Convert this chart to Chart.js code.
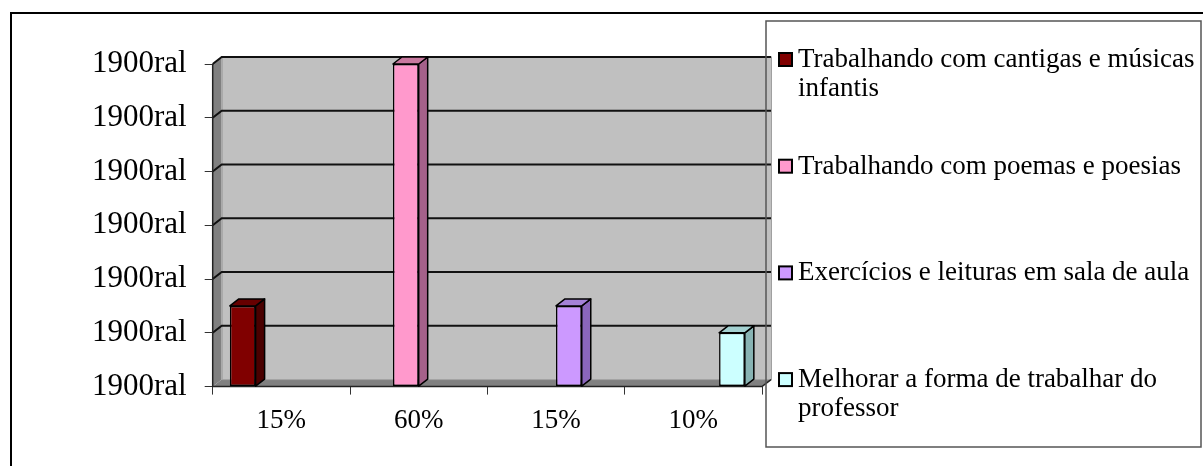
<!DOCTYPE html>
<html>
<head>
<meta charset="utf-8">
<script src="https://cdn.jsdelivr.net/npm/chart.js@4"></script>
<style>
  body { margin: 0; background: #fff; }
  canvas { display: block; }
</style>
</head>
<body>
<canvas id="chart" width="1203" height="466"></canvas>
<script>
// --- Data ---
const categories = ['15%', '60%', '15%', '10%'];
const seriesLabels = [
  'Trabalhando com cantigas e músicas infantis',
  'Trabalhando com poemas e poesias',
  'Exercícios e leituras em sala de aula',
  'Melhorar a forma de trabalhar do professor'
];
const cantigas  = [15, null, null, null];
const poemas    = [null, 60, null, null];
const exercicios = [null, null, 15, null];
const melhorar  = [null, null, null, 10];
const yTickText = '1900ral';

// front / side / top colours of each series
const fronts = ['#800000', '#FF99CC', '#CC99FF', '#CCFFFF'];
const sides  = ['#4a0000', '#a5618a', '#8a66bb', '#88b3b3'];
const tops   = ['#660000', '#c8799f', '#a582d8', '#a3d1d1'];

const DX = 9, DY = 7;   // depth of the 3d effect
const FONT = "'Liberation Serif', 'Times New Roman', serif";

// walls, floor and gridlines behind the bars
const wall3d = {
  id: 'wall3d',
  beforeDatasetsDraw(chart) {
    const { ctx, chartArea: a, scales: { y } } = chart;
    ctx.save();
    // side wall
    ctx.fillStyle = '#808080';
    ctx.beginPath();
    ctx.moveTo(a.left, a.top); ctx.lineTo(a.left + DX, a.top - DY);
    ctx.lineTo(a.left + DX, a.bottom - DY); ctx.lineTo(a.left, a.bottom);
    ctx.closePath(); ctx.fill();
    // floor
    ctx.beginPath();
    ctx.moveTo(a.left, a.bottom); ctx.lineTo(a.left + DX, a.bottom - DY);
    ctx.lineTo(a.right + DX, a.bottom - DY); ctx.lineTo(a.right, a.bottom);
    ctx.closePath(); ctx.fill();
    // back wall
    ctx.fillStyle = '#C0C0C0';
    ctx.fillRect(a.left + DX, a.top - DY, a.right - a.left, a.bottom - a.top);
    ctx.strokeStyle = '#a0a0a0';
    ctx.lineWidth = 1;
    ctx.strokeRect(a.left + DX + 0.5, a.top - DY, a.right - a.left, a.bottom - a.top);
    // gridlines
    ctx.strokeStyle = '#111';
    ctx.lineWidth = 2;
    y.ticks.forEach(t => {
      if (t.value === 0) return;
      const py = y.getPixelForValue(t.value);
      ctx.beginPath();
      ctx.moveTo(a.left, py);
      ctx.lineTo(a.left + DX, py - DY);
      ctx.lineTo(a.right + DX, py - DY);
      ctx.stroke();
    });
    // axis edges
    ctx.strokeStyle = '#222';
    ctx.lineWidth = 1.5;
    ctx.beginPath();
    ctx.moveTo(a.left, a.top); ctx.lineTo(a.left, a.bottom); ctx.lineTo(a.right, a.bottom);
    ctx.lineTo(a.right + DX, a.bottom - DY);
    ctx.stroke();
    ctx.restore();
  },
  afterDatasetsDraw(chart) {
    const { ctx } = chart;
    ctx.save();
    ctx.strokeStyle = '#000';
    ctx.lineWidth = 1.5;
    ctx.lineJoin = 'round';
    chart.data.datasets.forEach((ds, i) => {
      chart.getDatasetMeta(i).data.forEach((bar, j) => {
        if (ds.data[j] == null) return;
        const l = bar.x - bar.width / 2, r = bar.x + bar.width / 2;
        const t = bar.y, b = bar.base;
        // side face
        ctx.fillStyle = sides[i];
        ctx.beginPath();
        ctx.moveTo(r, t); ctx.lineTo(r + DX, t - DY); ctx.lineTo(r + DX, b - DY); ctx.lineTo(r, b);
        ctx.closePath(); ctx.fill(); ctx.stroke();
        // top face
        ctx.fillStyle = tops[i];
        ctx.beginPath();
        ctx.moveTo(l, t); ctx.lineTo(l + DX, t - DY); ctx.lineTo(r + DX, t - DY); ctx.lineTo(r, t);
        ctx.closePath(); ctx.fill(); ctx.stroke();
      });
    });
    ctx.restore();
  }
};

// legend box on the right and the outer frame
const sideLegend = {
  id: 'sideLegend',
  afterDraw(chart) {
    const { ctx } = chart;
    ctx.save();
    ctx.strokeStyle = '#555';
    ctx.lineWidth = 1.5;
    ctx.strokeRect(766, 21, 435, 426);

    ctx.font = '27px ' + FONT;
    ctx.fillStyle = '#000';
    ctx.textBaseline = 'alphabetic';
    const maxW = 400, lineH = 29;
    chart.data.datasets.forEach((ds, i) => {
      const base = 67 + i * 106.7;
      ctx.fillStyle = fronts[i];
      ctx.fillRect(779, base - 14, 13, 13);
      ctx.strokeStyle = '#000';
      ctx.lineWidth = 2;
      ctx.strokeRect(779, base - 14, 13, 13);
      // wrap the label
      const words = ds.label.split(' ');
      const lines = [];
      let line = '';
      words.forEach(w => {
        const test = line ? line + ' ' + w : w;
        if (ctx.measureText(test).width > maxW && line) { lines.push(line); line = w; }
        else line = test;
      });
      lines.push(line);
      ctx.fillStyle = '#000';
      lines.forEach((ln, k) => ctx.fillText(ln, 798, base + k * lineH));
    });

    // outer frame
    ctx.strokeStyle = '#000';
    ctx.lineWidth = 2;
    ctx.beginPath();
    ctx.moveTo(11, 466); ctx.lineTo(11, 13); ctx.lineTo(1203, 13);
    ctx.stroke();
    ctx.restore();
  }
};

const seriesData = [cantigas, poemas, exercicios, melhorar];

new Chart(document.getElementById('chart'), {
  type: 'bar',
  data: {
    labels: categories,
    datasets: seriesData.map((d, i) => ({
      label: seriesLabels[i],
      data: d,
      backgroundColor: fronts[i],
      borderColor: '#000',
      borderWidth: 1.5,
      borderSkipped: false,
      categoryPercentage: 0.75,
      barPercentage: 1,
      skipNull: false
    }))
  },
  options: {
    responsive: false,
    animation: false,
    layout: { padding: { left: 74, right: 441, top: 64, bottom: 19 } },
    plugins: { legend: { display: false }, tooltip: { enabled: false } },
    scales: {
      x: {
        grid: { drawOnChartArea: false, tickLength: 8, color: '#333', lineWidth: 1 },
        border: { display: false },
        ticks: { color: '#000', padding: 10, font: { family: FONT, size: 27 } }
      },
      y: {
        min: 0, max: 60,
        grid: { drawOnChartArea: false, tickLength: 8, color: '#333', lineWidth: 1 },
        border: { display: false },
        ticks: {
          stepSize: 10, color: '#000', padding: 18,
          font: { family: FONT, size: 31 },
          callback: () => yTickText
        }
      }
    }
  },
  plugins: [wall3d, sideLegend]
});
</script>
</body>
</html>
